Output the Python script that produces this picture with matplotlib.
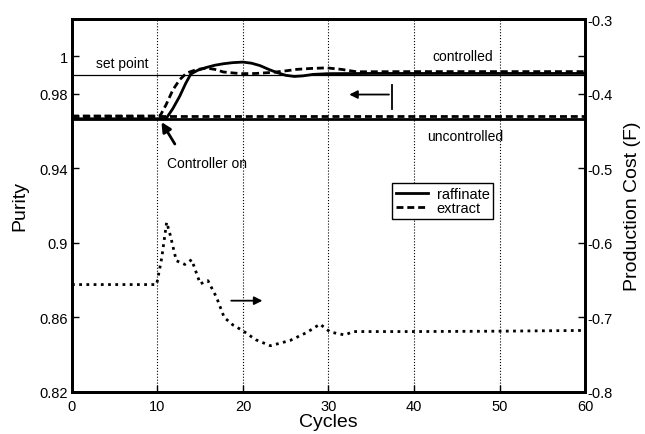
import numpy as np
import matplotlib
matplotlib.use('Agg')
from matplotlib import pyplot as plt

plt.rcParams['font.family'] = ['Liberation Sans', 'DejaVu Sans']

# purity, uncontrolled
unc_raff = 0.9665
unc_ext = 0.968
set_point = 0.99

# purity, controlled raffinate
raff_cyc = [0, 11.0, 11.8, 12.6, 13.3, 13.9, 14.7, 15.7, 16.7, 17.7, 18.8, 20, 21, 22, 23,
            23.9, 25, 26, 27, 28.2, 30, 35, 40, 60]
raff_pur = [0.9665, 0.9665, 0.972, 0.9786, 0.9855, 0.9905, 0.9925, 0.994, 0.9952, 0.996, 0.9966,
            0.9969, 0.9963, 0.995, 0.993, 0.9914, 0.9898, 0.9892, 0.9895, 0.9903, 0.9907, 0.9908,
            0.9908, 0.9908]

# purity, controlled extract
ext_cyc = [0, 10.3, 11.0, 11.8, 12.6, 13.4, 14.5, 15.7, 16.7, 17.7, 19, 20, 21.5, 23.5, 25,
           26.3, 28, 29.8, 31.5, 33.3, 40, 60]
ext_pur = [0.968, 0.968, 0.974, 0.982, 0.9875, 0.991, 0.9928, 0.9937, 0.993, 0.9916, 0.991,
           0.9907, 0.9908, 0.9914, 0.9922, 0.993, 0.9935, 0.9938, 0.993, 0.9917, 0.9918, 0.9918]

# production cost (F)
cost_cyc = [0, 9.9, 10.5, 11.07, 11.5, 12.2, 13.2, 14.0, 15.0, 15.9, 16.9, 17.8, 18.8, 20.0,
            21.5, 23.2, 25.5, 27.5, 29.0, 30.2, 31.9, 32.9, 40, 50, 60]
cost_val = [-0.656, -0.656, -0.62, -0.5725, -0.59, -0.624, -0.629, -0.6227, -0.655, -0.6508,
            -0.673, -0.700, -0.710, -0.718, -0.730, -0.738, -0.731, -0.720, -0.709, -0.7196,
            -0.7236, -0.719, -0.719, -0.7185, -0.7175]

fig = plt.figure(figsize=(6.45, 4.35), dpi=100)
ax = fig.add_axes([0.1116, 0.0966, 0.7954, 0.8574])
ax2 = ax.twinx()

dash = (2.5, 1.4)
ax.axhline(set_point, color='black', lw=0.9)
ax.plot([0, 60], [unc_raff, unc_raff], color='black', lw=2.0)
ax.plot([0, 60], [unc_ext, unc_ext], color='black', lw=2.0, dashes=dash)
l1, = ax.plot(raff_cyc, raff_pur, color='black', lw=2.0, label='raffinate')
l2, = ax.plot(ext_cyc, ext_pur, color='black', lw=2.0, dashes=dash, label='extract')

ax2.plot(cost_cyc, cost_val, color='black', lw=2.0, dashes=(1, 1.6))

ax.set_xlim(0, 60)
ax.set_ylim(0.82, 1.02)
ax2.set_ylim(-0.8, -0.3)
ax.set_xticks([0, 10, 20, 30, 40, 50, 60])
ax.set_yticks([0.82, 0.86, 0.9, 0.94, 0.98, 1.0])
ax.set_yticklabels(['0.82', '0.86', '0.9', '0.94', '0.98', '1'])
ax2.set_yticks([-0.8, -0.7, -0.6, -0.5, -0.4, -0.3])
ax2.set_yticks([-0.35], minor=True)
ax2.set_yticklabels(['-0.8', '-0.7', '-0.6', '-0.5', '-0.4', '-0.3'])

ax.xaxis.grid(True, linestyle=':', color='black', lw=0.8)
ax.tick_params(direction='in', length=5, width=1, labelsize=10.5, pad=3)
ax.tick_params(axis='x', pad=5)
ax2.tick_params(direction='in', length=5, width=1, labelsize=10.5, pad=2)
ax2.tick_params(which='minor', direction='in', length=5, width=1)
for a in (ax, ax2):
    for s in a.spines.values():
        s.set_linewidth(2)

ax.set_xlabel('Cycles', fontsize=14, labelpad=0)
ax.set_ylabel('Purity', fontsize=14, labelpad=8)
ax2.set_ylabel('Production Cost (F)', fontsize=14, labelpad=8)

ax.text(2.8, 0.9965, 'set point', fontsize=10, va='center')
ax.text(42.2, 1.0, 'controlled', fontsize=10, va='center')
ax.text(41.5, 0.957, 'uncontrolled', fontsize=10, va='center')
ax.text(11.1, 0.9427, 'Controller on', fontsize=10, va='center')

ax.annotate('', xy=(10.3, 0.966), xytext=(12.2, 0.9517),
            arrowprops=dict(arrowstyle='-|>', color='black', lw=2, mutation_scale=14))
ax.annotate('', xy=(32.1, 0.9795), xytext=(37.4, 0.9795),
            arrowprops=dict(arrowstyle='-|>', color='black', lw=1.3, mutation_scale=12))
ax.plot([37.4, 37.4], [0.972, 0.9848], color='black', lw=1.3)
ax2.annotate('', xy=(22.6, -0.6776), xytext=(18.3, -0.6776),
             arrowprops=dict(arrowstyle='-|>', color='black', lw=1.3, mutation_scale=12))

leg = ax.legend(handles=[l1, l2], loc='upper left', bbox_to_anchor=(0.624, 0.56),
                fontsize=10.5, fancybox=False, framealpha=1, edgecolor='black',
                handlelength=2.2, handletextpad=0.6, borderpad=0.25, labelspacing=0.05,
                borderaxespad=0)
leg.get_frame().set_linewidth(1)

fig.savefig('out.png', dpi=100)
